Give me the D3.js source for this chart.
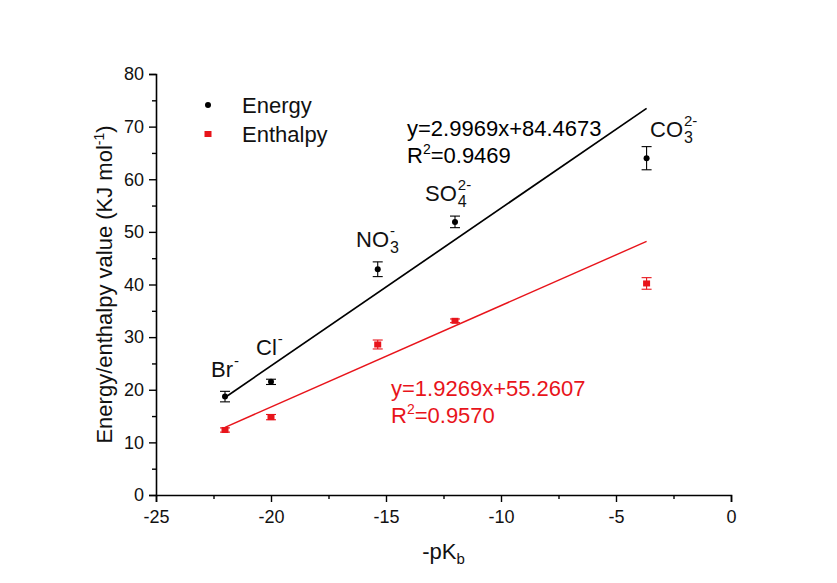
<!DOCTYPE html>
<html>
<head>
<meta charset="utf-8">
<script src="https://cdn.jsdelivr.net/npm/d3@7"></script>
<style>
  html, body { margin: 0; padding: 0; background: #fff; }
  svg { display: block; font-family: "Liberation Sans", Arial, sans-serif; }
</style>
</head>
<body>
<svg id="chart" width="837" height="583"></svg>
<script>
// -pKb of each anion
const anions = ["Br", "Cl", "NO3", "SO4", "CO3"];
const pKb = [-22, -20, -15.36, -12, -3.67];

// Energy values and their errors (KJ mol-1)
const energy = [18.7, 21.5, 42.9, 51.9, 64.0];
const energyErr = [1.0, 0.5, 1.4, 1.1, 2.2];

// Enthalpy values and their errors (KJ mol-1)
const enthalpy = [12.35, 14.8, 28.6, 33.1, 40.2];
const enthalpyErr = [0.4, 0.5, 0.85, 0.35, 1.1];

// Linear fits: [slope, intercept, R^2]
const energyFit = [2.9969, 84.4673, 0.9469];
const enthalpyFit = [1.9269, 55.2607, 0.9570];

const xTicks = [-25, -20, -15, -10, -5, 0];
const yTicks = [0, 10, 20, 30, 40, 50, 60, 70, 80];

const RED = "#e8141b";
const BLACK = "#000";

const svg = d3.select("#chart");
const W = 837, H = 583;
const m = { left: 156, right: 106, top: 74, bottom: 88 };

const x = d3.scaleLinear().domain([-25, 0]).range([m.left, W - m.right]);
const y = d3.scaleLinear().domain([0, 80]).range([H - m.bottom, m.top]);

// Axes with outward major ticks plus minor ticks halfway between
const xAxis = svg.append("g").attr("transform", `translate(0,${y(0)})`)
  .call(d3.axisBottom(x).tickValues(xTicks).tickSize(7).tickPadding(5)
    .tickFormat(d => d === 0 ? "0" : String(d)));
const yAxis = svg.append("g").attr("transform", `translate(${x(-25)},0)`)
  .call(d3.axisLeft(y).tickValues(yTicks).tickSize(7).tickPadding(5));

svg.append("g").attr("transform", `translate(0,${y(0)})`)
  .call(d3.axisBottom(x).tickValues(d3.range(-22.5, 0, 5)).tickSize(4).tickFormat(""))
  .select(".domain").remove();
svg.append("g").attr("transform", `translate(${x(-25)},0)`)
  .call(d3.axisLeft(y).tickValues(d3.range(5, 80, 10)).tickSize(4).tickFormat(""))
  .select(".domain").remove();

svg.selectAll(".domain").attr("stroke", BLACK).attr("stroke-width", 1.6);
svg.selectAll(".tick line").attr("stroke", BLACK).attr("stroke-width", 1.4);
svg.selectAll(".tick text").attr("font-size", 18).attr("fill", "#111")
  .attr("font-family", "'Liberation Sans', Arial, sans-serif");
xAxis.selectAll(".tick text").attr("dy", "0.9em");

// Axis titles
const xt = svg.append("text").attr("x", x(-12.5)).attr("y", 559)
  .attr("text-anchor", "middle").attr("font-size", 22).attr("fill", "#111");
xt.append("tspan").text("-pK");
xt.append("tspan").attr("font-size", 15).attr("dy", 5).text("b");

const yt = svg.append("text")
  .attr("transform", `translate(112,${y(40)}) rotate(-90)`)
  .attr("text-anchor", "middle").attr("font-size", 22).attr("fill", "#111");
yt.append("tspan").text("Energy/enthalpy value (KJ mol");
yt.append("tspan").attr("font-size", 14).attr("dy", -8).text("-1");
yt.append("tspan").attr("dy", 8).text(")");

// Fit lines across the data range
function fitLine(fit, color, width) {
  const [a, b] = fit;
  const xs = d3.extent(pKb);
  svg.append("line")
    .attr("x1", x(xs[0])).attr("y1", y(a * xs[0] + b))
    .attr("x2", x(xs[1])).attr("y2", y(a * xs[1] + b))
    .attr("stroke", color).attr("stroke-width", width);
}
fitLine(energyFit, BLACK, 1.7);
fitLine(enthalpyFit, RED, 1.4);

// Error bars and markers
function series(vals, errs, color, shape) {
  const g = svg.append("g");
  const rows = pKb.map((px, i) => ({ px, v: vals[i], e: errs[i] }));
  const cap = 5;
  rows.forEach(d => {
    const cx = x(d.px);
    g.append("line").attr("x1", cx).attr("x2", cx)
      .attr("y1", y(d.v - d.e)).attr("y2", y(d.v + d.e))
      .attr("stroke", color).attr("stroke-width", 1.1);
    [d.v - d.e, d.v + d.e].forEach(t => {
      g.append("line").attr("x1", cx - cap).attr("x2", cx + cap)
        .attr("y1", y(t)).attr("y2", y(t))
        .attr("stroke", color).attr("stroke-width", 1.1);
    });
    if (shape === "circle") {
      g.append("circle").attr("cx", cx).attr("cy", y(d.v)).attr("r", 3).attr("fill", color);
    } else {
      g.append("rect").attr("x", cx - 3.5).attr("y", y(d.v) - 3)
        .attr("width", 7).attr("height", 6).attr("fill", color);
    }
  });
}
series(energy, energyErr, BLACK, "circle");
series(enthalpy, enthalpyErr, RED, "square");

// Legend
svg.append("circle").attr("cx", 208).attr("cy", 105).attr("r", 3).attr("fill", BLACK);
svg.append("text").attr("x", 242).attr("y", 113).attr("font-size", 22).attr("fill", "#111").text("Energy");
svg.append("rect").attr("x", 204.5).attr("y", 131).attr("width", 7).attr("height", 6).attr("fill", RED);
svg.append("text").attr("x", 242).attr("y", 142).attr("font-size", 22).attr("fill", "#111").text("Enthalpy");

// Fit equations
function equation(fit, color, px, py) {
  const [a, b, r2] = fit;
  svg.append("text").attr("x", px).attr("y", py).attr("font-size", 22).attr("fill", color)
    .text(`y=${a.toFixed(4)}x+${b.toFixed(4)}`);
  const t = svg.append("text").attr("x", px).attr("y", py + 27).attr("font-size", 22).attr("fill", color);
  t.append("tspan").text("R");
  t.append("tspan").attr("font-size", 14).attr("dy", -9).text("2");
  t.append("tspan").attr("dy", 9).text(`=${r2.toFixed(4)}`);
}
equation(energyFit, BLACK, 407, 136);
equation(enthalpyFit, RED, 391, 396);

// Ion labels: main symbol, optional stacked subscript / superscript
function ionLabel(main, sub, sup, px, py) {
  const t = svg.append("text").attr("x", px).attr("y", py).attr("font-size", 22).attr("fill", "#111").text(main);
  const w = t.node().getComputedTextLength();
  if (sub) {
    svg.append("text").attr("x", px + w + 1).attr("y", py + 6)
      .attr("font-size", 16).attr("fill", "#111").text(sub);
  }
  if (sup) {
    svg.append("text").attr("x", px + w + 1).attr("y", py - 11)
      .attr("font-size", 15).attr("fill", "#111").text(sup);
  }
}
ionLabel("Br", null, "-", 211, 377);
ionLabel("Cl", null, "-", 256, 355);
ionLabel("NO", "3", "-", 356, 247);
ionLabel("SO", "4", "2-", 425, 201);
ionLabel("CO", "3", "2-", 650, 137);
</script>
</body>
</html>
